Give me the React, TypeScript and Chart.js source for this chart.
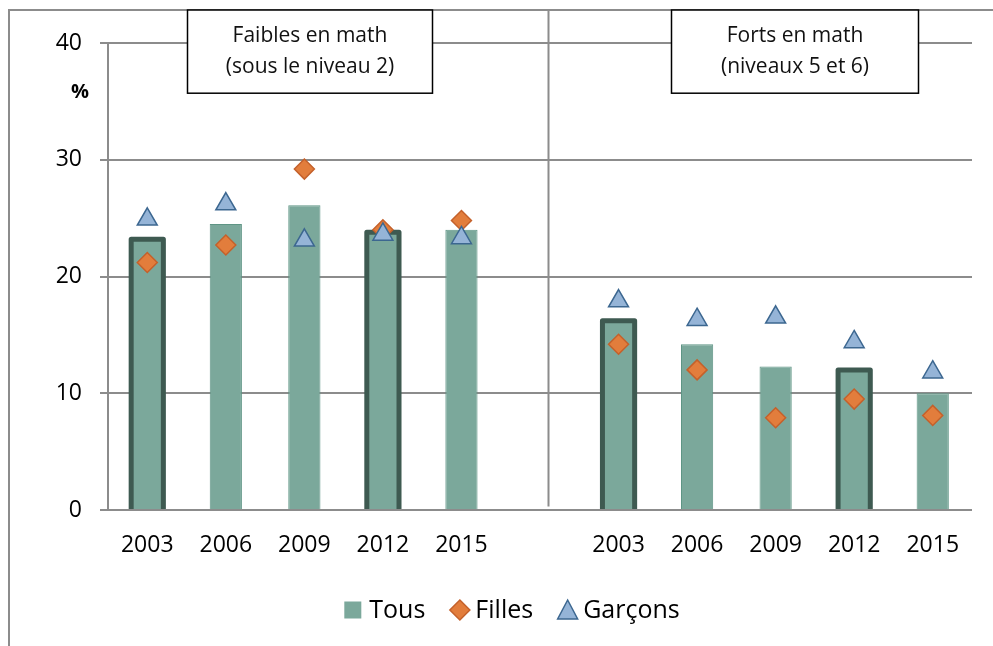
import React, { useEffect, useRef } from "react";
import { Chart, registerables } from "chart.js";

Chart.register(...registerables);

const categories = ["2003", "2006", "2009", "2012", "2015", "", "2003", "2006", "2009", "2012", "2015"];
const tous = [23.2, 24.5, 26.1, 23.8, 24.0, null, 16.2, 14.2, 12.3, 12.0, 10.0];
const filles = [21.2, 22.7, 29.2, 24.0, 24.8, null, 14.2, 12.0, 7.9, 9.5, 8.1];
const garcons = [24.9, 26.2, 23.1, 23.6, 23.3, null, 17.9, 16.3, 16.5, 14.4, 11.8];
const highlighted = [0, 3, 6, 9];
const panelTitles = [
  ["Faibles en math", "(sous le niveau 2)"],
  ["Forts en math", "(niveaux 5 et 6)"],
];
const legendLabels = ["Tous", "Filles", "Garçons"];

const FONT = "'Open Sans', 'Liberation Sans', sans-serif";
const GRID = "#8c8c8c";
const BAR_FILL = "#7ba89b";
const BAR_EDGE = "#5f9585";
const BAR_THICK = "#3e5a51";
const ORANGE = "#e27d3c";
const ORANGE_EDGE = "#c4612b";
const BLUE = "#95b4d7";
const BLUE_EDGE = "#3c6790";

const decorPlugin = {
  id: "decor",
  beforeDraw(chart: any) {
    const { ctx, width, height } = chart;
    ctx.save();
    ctx.fillStyle = "#ffffff";
    ctx.fillRect(0, 0, width, height);
    ctx.restore();
  },
  afterDatasetDraw(chart: any, args: any) {
    if (args.index !== 0) return;
    const { ctx } = chart;
    const meta = chart.getDatasetMeta(0);
    ctx.save();
    ctx.strokeStyle = BAR_THICK;
    ctx.lineWidth = 5;
    ctx.lineJoin = "round";
    highlighted.forEach((i) => {
      const el: any = meta.data[i];
      if (!el) return;
      const { x, y, base, width } = el.getProps(["x", "y", "base", "width"], true);
      ctx.beginPath();
      ctx.moveTo(x - width / 2, base);
      ctx.lineTo(x - width / 2, y);
      ctx.lineTo(x + width / 2, y);
      ctx.lineTo(x + width / 2, base);
      ctx.stroke();
    });
    ctx.restore();
  },
  afterDraw(chart: any) {
    const { ctx, chartArea, width } = chart;
    const ys = chart.scales.y;
    const L = chartArea.left;
    const W = chartArea.right - chartArea.left;
    ctx.save();
    // outer frame
    ctx.strokeStyle = GRID;
    ctx.lineWidth = 2;
    ctx.strokeRect(9, 10, width + 50, 1000);
    // divider
    const dx = Math.round(L + W * 0.509) + 0.5;
    ctx.beginPath();
    ctx.moveTo(dx, 10);
    ctx.lineTo(dx, ys.getPixelForValue(0.3));
    ctx.stroke();
    // panel title boxes
    const boxes = [
      [0.0917, 0.375],
      [0.652, 0.937],
    ];
    const boxBottom = ys.getPixelForValue(35.7);
    boxes.forEach(([a, b], k) => {
      const x0 = Math.round(L + W * a) + 0.5;
      const x1 = Math.round(L + W * b) + 0.5;
      ctx.fillStyle = "#ffffff";
      ctx.fillRect(x0, 10, x1 - x0, boxBottom - 10);
      ctx.strokeStyle = "#000000";
      ctx.lineWidth = 1.5;
      ctx.strokeRect(x0, 10, x1 - x0, boxBottom - 10);
      ctx.fillStyle = "#111111";
      ctx.font = `21px ${FONT}`;
      ctx.textAlign = "center";
      ctx.textBaseline = "middle";
      const cx = (x0 + x1) / 2;
      ctx.fillText(panelTitles[k][0], cx, 36);
      ctx.fillText(panelTitles[k][1], cx, 67);
    });
    // % unit label
    ctx.fillStyle = "#000000";
    ctx.font = `bold 20px ${FONT}`;
    ctx.textAlign = "center";
    ctx.textBaseline = "middle";
    ctx.fillText("%", 80, ys.getPixelForValue(35.8));

    // legend
    ctx.font = `25px ${FONT}`;
    ctx.textBaseline = "middle";
    ctx.textAlign = "left";
    const ly = 610;
    const markerW = [17, 21, 21];
    const gapAfterMarker = [8, 5, 5];
    const gapBetween = 24;
    const textW = legendLabels.map((t) => ctx.measureText(t).width);
    let total = 0;
    legendLabels.forEach((_, i) => {
      total += markerW[i] + gapAfterMarker[i] + textW[i];
      if (i < legendLabels.length - 1) total += gapBetween;
    });
    let x = 512 - total / 2;
    legendLabels.forEach((t, i) => {
      const mw = markerW[i];
      const mcx = x + mw / 2;
      if (i === 0) {
        ctx.fillStyle = BAR_FILL;
        ctx.fillRect(x, ly - 8.5, 17, 17);
      } else if (i === 1) {
        ctx.beginPath();
        ctx.moveTo(mcx, ly - 10);
        ctx.lineTo(mcx + 10, ly);
        ctx.lineTo(mcx, ly + 10);
        ctx.lineTo(mcx - 10, ly);
        ctx.closePath();
        ctx.fillStyle = ORANGE;
        ctx.fill();
        ctx.strokeStyle = ORANGE_EDGE;
        ctx.lineWidth = 1.5;
        ctx.stroke();
      } else {
        ctx.beginPath();
        ctx.moveTo(mcx, ly - 10);
        ctx.lineTo(mcx + 10, ly + 9);
        ctx.lineTo(mcx - 10, ly + 9);
        ctx.closePath();
        ctx.fillStyle = BLUE;
        ctx.fill();
        ctx.strokeStyle = BLUE_EDGE;
        ctx.lineWidth = 1.5;
        ctx.stroke();
      }
      x += mw + gapAfterMarker[i];
      ctx.fillStyle = "#000000";
      ctx.fillText(t, x, ly + 1);
      x += textW[i] + gapBetween;
    });
    ctx.restore();
  },
};

export default function App() {
  const ref = useRef<HTMLCanvasElement | null>(null);
  useEffect(() => {
    if (!ref.current) return;
    const chart = new Chart(ref.current, {
      type: "bar",
      data: {
        labels: categories,
        datasets: [
          {
            type: "bar",
            label: legendLabels[0],
            data: tous as any,
            backgroundColor: BAR_FILL,
            borderColor: BAR_EDGE,
            borderWidth: 1,
            barPercentage: 0.41,
            categoryPercentage: 1,
            order: 3,
          },
          {
            type: "line",
            label: legendLabels[1],
            data: filles as any,
            showLine: false,
            pointStyle: "rectRot",
            pointRadius: 10,
            pointBackgroundColor: ORANGE,
            pointBorderColor: ORANGE_EDGE,
            pointBorderWidth: 1.5,
            order: 2,
          },
          {
            type: "line",
            label: legendLabels[2],
            data: garcons as any,
            showLine: false,
            pointStyle: "triangle",
            pointRadius: 11.5,
            pointBackgroundColor: BLUE,
            pointBorderColor: BLUE_EDGE,
            pointBorderWidth: 1.5,
            order: 1,
          },
        ],
      },
      options: {
        animation: false,
        responsive: false,
        maintainAspectRatio: false,
        layout: { padding: { top: 43, right: 21, left: 0, bottom: 0 } },
        plugins: {
          legend: { display: false },
          tooltip: { enabled: false },
        },
        scales: {
          x: {
            grid: { display: false },
            border: { display: false },
            ticks: {
              color: "#000000",
              font: { family: FONT, size: 23 },
              padding: 14,
              maxRotation: 0,
              autoSkip: false,
            },
            afterFit: (axis: any) => {
              axis.height = 136;
            },
          },
          y: {
            min: 0,
            max: 40,
            ticks: {
              stepSize: 10,
              color: "#000000",
              font: { family: FONT, size: 23 },
              padding: 18,
            },
            grid: { color: GRID, lineWidth: 2, tickLength: 8, drawTicks: true },
            border: { display: true, color: GRID, width: 2 },
            afterFit: (axis: any) => {
              axis.width = 108;
            },
          },
        },
      },
      plugins: [decorPlugin],
    });
    return () => chart.destroy();
  }, []);
  return (
    <div style={{ position: "fixed", left: 0, top: 0, width: 993, height: 646, background: "#fff" }}>
      <canvas ref={ref} width={993} height={646} style={{ width: 993, height: 646, display: "block" }} />
    </div>
  );
}
